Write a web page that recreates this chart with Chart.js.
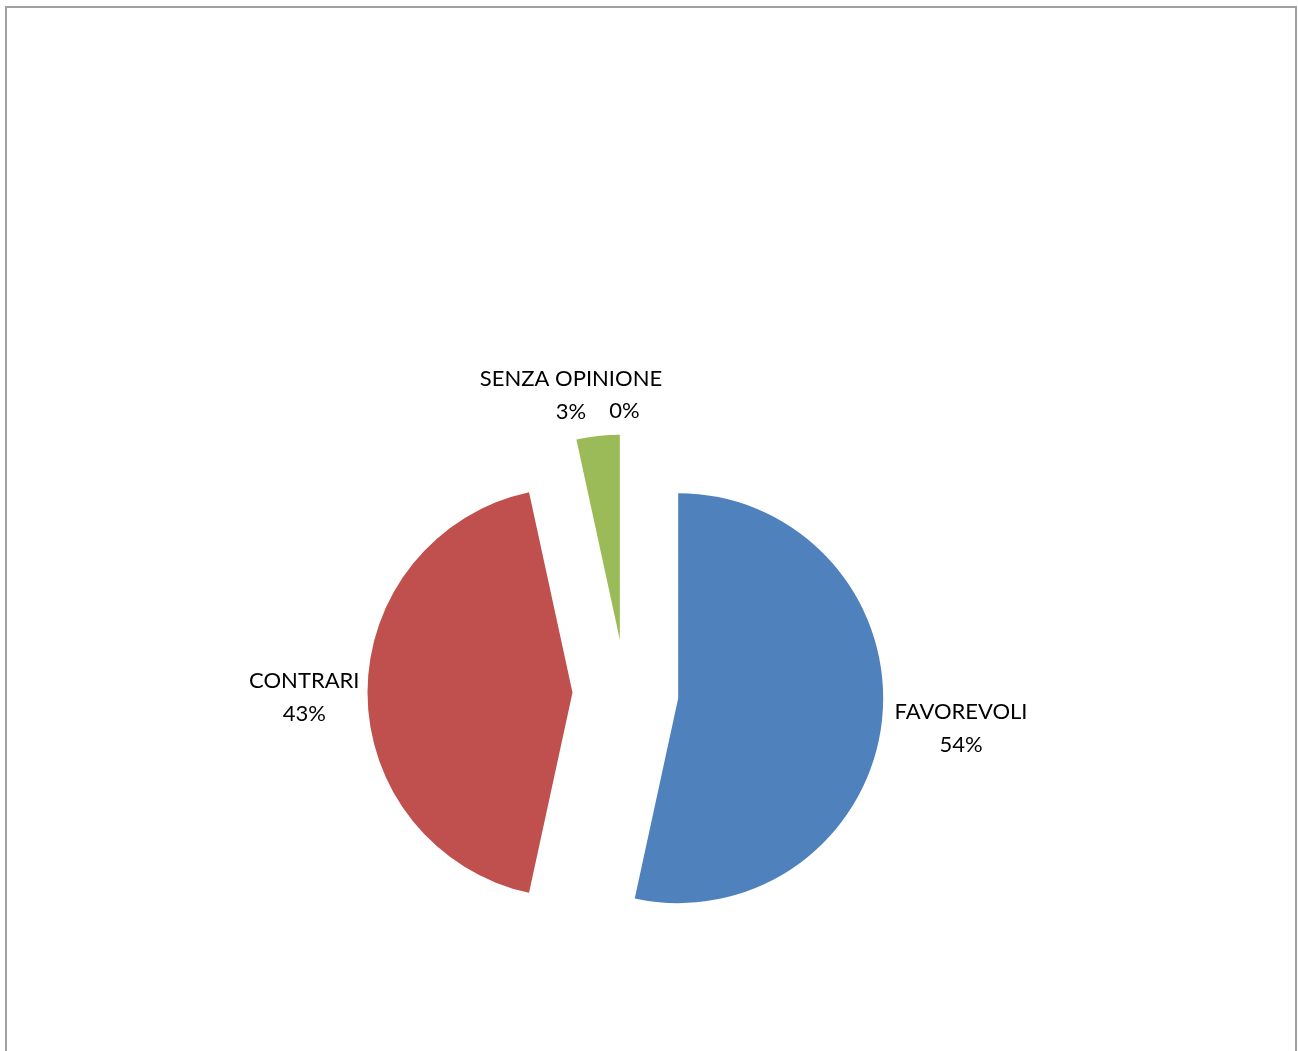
<!DOCTYPE html>
<html><head><meta charset="utf-8">
<script src="https://cdn.jsdelivr.net/npm/chart.js@4.4.1/dist/chart.umd.min.js"></script>
<style>
html,body{margin:0;padding:0;background:#fff;overflow:hidden;width:1298px;height:1051px}
#frame{position:absolute;left:5px;top:6px;width:1288px;height:1100px;border:2px solid #A0A0A0;box-sizing:content-box}
#wrap{position:absolute;left:0;top:0;width:1298px;height:1051px}
</style></head><body>
<div id="frame"></div>
<div id="wrap"><canvas id="c" width="1298" height="1051"></canvas></div>
<script>
const categories = ['FAVOREVOLI', 'CONTRARI', 'SENZA OPINIONE', ''];
const values = [53.4, 43.2, 3.4, 0];               // slice sizes as drawn
const percentLabels = ['54%', '43%', '3%', '0%'];  // labels as printed
const sliceColors = ['#4F81BD', '#C0504D', '#9BBB59', '#8064A2'];

const RADIUS = 205;
const EXPLODE = 53;

// Exploded pie: move each slice outward along its mid-angle
const explode = {
  id: 'explode',
  beforeDatasetsDraw(chart) {
    const a = chart.chartArea;
    const ox = (a.left + a.right) / 2, oy = (a.top + a.bottom) / 2;
    chart.getDatasetMeta(0).data.forEach(arc => {
      const mid = (arc.startAngle + arc.endAngle) / 2;
      arc.x = ox + Math.cos(mid) * EXPLODE;
      arc.y = oy + Math.sin(mid) * EXPLODE;
    });
  }
};

const sliceLabels = {
  id: 'sliceLabels',
  afterDatasetsDraw(chart, args, opts) {
    const ctx = chart.ctx;
    const meta = chart.getDatasetMeta(0);
    ctx.save();
    ctx.font = opts.font;
    ctx.fillStyle = '#000';
    ctx.textAlign = 'center';
    ctx.textBaseline = 'middle';
    meta.data.forEach((arc, i) => {
      const mid = (arc.startAngle + arc.endAngle) / 2;
      const dx = Math.cos(mid), dy = Math.sin(mid);
      const px = arc.x + dx * (RADIUS + opts.gap), py = arc.y + dy * (RADIUS + opts.gap);
      const lines = [];
      if (categories[i]) lines.push(categories[i]);
      lines.push(percentLabels[i]);
      const w = Math.max(...lines.map(l => ctx.measureText(l).width));
      const h = lines.length * opts.lineHeight;
      const n = opts.nudge[i] || [0, 0];
      const bx = px + dx * w / 2 + n[0];
      const by = py + dy * h / 2 + n[1];
      lines.forEach((l, k) => ctx.fillText(l, bx, by - h / 2 + opts.lineHeight * (k + 0.5)));
    });
    ctx.restore();
  }
};

new Chart(document.getElementById('c'), {
  type: 'pie',
  data: {
    labels: categories,
    datasets: [{
      data: values,
      backgroundColor: sliceColors,
      borderWidth: 0,
      radius: RADIUS
    }]
  },
  options: {
    responsive: false,
    animation: false,
    events: [],
    layout: { padding: { left: 0, right: 47, top: 334, bottom: 0 } },
    plugins: {
      legend: { display: false },
      tooltip: { enabled: false },
      sliceLabels: {
        font: '22px Lato',
        lineHeight: 33,
        gap: 12,
        nudge: [[1, 4], [4, 5], [-16, 4], [-1, 5]]
      }
    }
  },
  plugins: [explode, sliceLabels]
});
</script>
</body></html>
